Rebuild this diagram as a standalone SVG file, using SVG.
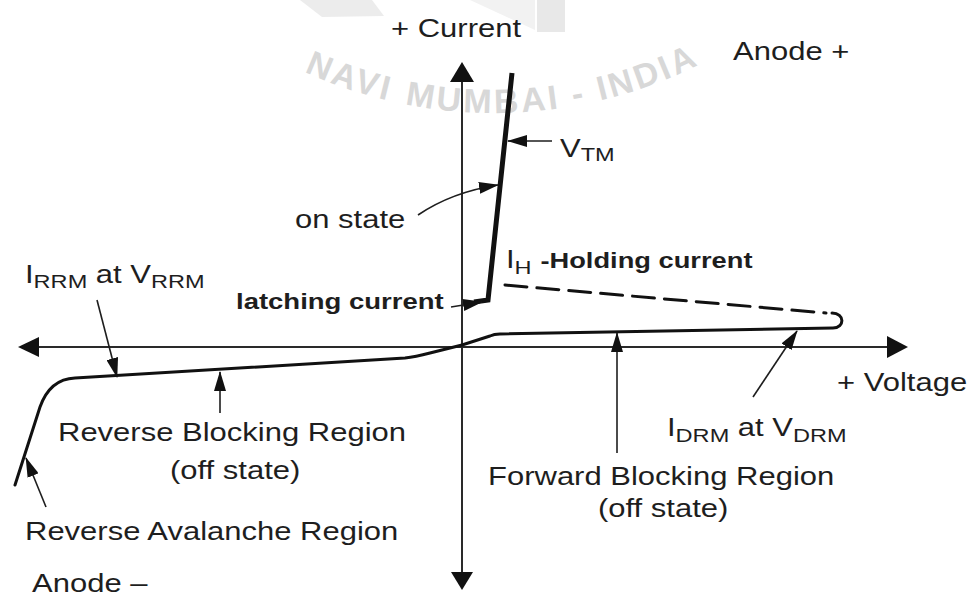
<svg xmlns="http://www.w3.org/2000/svg" width="969" height="596" viewBox="0 0 969 596">
<style>
.t{font-family:"Liberation Sans",Arial,sans-serif;font-size:25px;fill:#1e1e1e}
.b{font-family:"Liberation Sans",Arial,sans-serif;font-size:22px;font-weight:bold;fill:#1e1e1e}
.sub{font-size:19px;font-weight:normal}
.wm{font-family:"Liberation Sans",Arial,sans-serif;font-size:34px;font-weight:bold;fill:#d8d8d8;letter-spacing:3px}
.ax{stroke:#2a2a2a;stroke-width:2;fill:none}
.ar{stroke:#1e1e1e;stroke-width:1.6;fill:none;marker-end:url(#ah)}
.cv{stroke:#111;stroke-width:3;fill:none;stroke-linejoin:round;stroke-linecap:round}
.head{fill:#111}
</style>
<defs>
<marker id="ah" markerUnits="userSpaceOnUse" markerWidth="20" markerHeight="12" refX="19" refY="6" orient="auto">
<path d="M0,0 L20,6 L0,12 z" fill="#111"/>
</marker>
<path id="wmarc" d="M 300.4 70 A 458 458 0 0 0 709 59.4"/>
</defs>
<rect width="969" height="596" fill="#ffffff"/>
<g id="watermark">
<polygon points="300,0 372,0 384,16 322,17" fill="#ececec"/>
<polygon points="470,0 535,0 535,30" fill="#f2f2f2"/>
<rect x="537" y="0" width="28" height="32" fill="#e8e8e8"/>
<text class="wm"><textPath href="#wmarc" startOffset="4">NAVI</textPath></text>
<text class="wm"><textPath href="#wmarc" startOffset="110">MUMBAI</textPath></text>
<text class="wm"><textPath href="#wmarc" startOffset="280">- INDIA</textPath></text>
</g>
<g id="axes">
<line class="ax" x1="462" y1="80" x2="462" y2="574"/>
<polygon class="head" points="462,62 450,82 474,82"/>
<polygon class="head" points="462,590 451,572 473,572"/>
<line class="ax" x1="36" y1="347" x2="890" y2="347"/>
<polygon class="head" points="18,347 39,337 39,357"/>
<polygon class="head" points="908,347 887,336 887,358"/>
</g>
<g id="curve">
<path class="cv" d="M 15 485 L 40 407 Q 50 379 75 378 L 405 358 Q 415 357 430 353 L 462 345 L 490 336 Q 494 334 500 334 L 833 328 C 845 328 845 313 832 313"/>
<path class="cv" d="M 505 285 L 826 313" stroke-dasharray="22 10" stroke-linecap="butt"/>
<path d="M 474 302 L 488 300 L 512 73" stroke="#111" stroke-width="5" fill="none" stroke-linejoin="miter"/>
</g>
<g id="connectors">
<line class="ar" x1="552" y1="141" x2="508" y2="141"/>
<path class="ar" d="M 418 215 Q 452 192 498 185"/>
<line class="ar" x1="451" y1="307" x2="482" y2="302"/>
<line class="ar" x1="97" y1="300" x2="117" y2="377"/>
<line class="ar" x1="220" y1="413" x2="220" y2="372"/>
<line class="ar" x1="46" y1="507" x2="26" y2="458"/>
<line class="ar" x1="617" y1="453" x2="617" y2="333"/>
<line class="ar" x1="753" y1="397" x2="797" y2="331"/>
</g>
<g id="labels">
<text class="t" transform="translate(391,37) scale(1.24,1)">+ Current</text>
<text class="t" transform="translate(733,60) scale(1.24,1)">Anode +</text>
<text class="t" transform="translate(560,157) scale(1.24,1)">V<tspan class="sub" dy="4">TM</tspan></text>
<text class="t" transform="translate(295,228) scale(1.24,1)">on state</text>
<text class="t" transform="translate(506,268) scale(1.24,1)">I<tspan class="sub" dy="6">H</tspan><tspan dy="-6" style="font-weight:bold;font-size:22px" dx="1"> -Holding current</tspan></text>
<text class="t" transform="translate(25,283) scale(1.24,1)">I<tspan class="sub" dy="5">RRM</tspan><tspan dy="-5"> at V</tspan><tspan class="sub" dy="5">RRM</tspan></text>
<text class="b" transform="translate(236,309) scale(1.25,1)">latching current</text>
<text class="t" transform="translate(837,391) scale(1.24,1)">+ Voltage</text>
<text class="t" transform="translate(667,436) scale(1.24,1)">I<tspan class="sub" dy="6">DRM</tspan><tspan dy="-6"> at V</tspan><tspan class="sub" dy="6">DRM</tspan></text>
<text class="t" transform="translate(58,441) scale(1.24,1)">Reverse Blocking Region</text>
<text class="t" transform="translate(170,479) scale(1.24,1)">(off state)</text>
<text class="t" transform="translate(488,485) scale(1.24,1)">Forward Blocking Region</text>
<text class="t" transform="translate(598,517) scale(1.24,1)">(off state)</text>
<text class="t" transform="translate(25,540) scale(1.24,1)">Reverse Avalanche Region</text>
<text class="t" transform="translate(32,592) scale(1.24,1)">Anode –</text>
</g>
</svg>
